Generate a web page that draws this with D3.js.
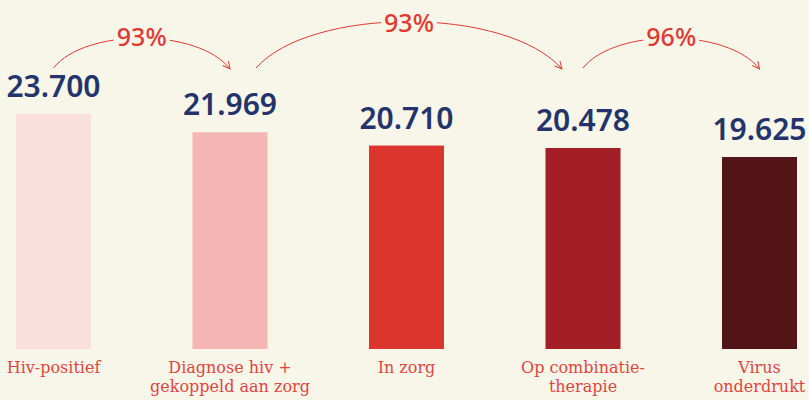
<!DOCTYPE html>
<html>
<head>
<meta charset="utf-8">
<script src="https://cdn.jsdelivr.net/npm/d3@7"></script>
<style>
  html, body { margin: 0; padding: 0; background: #f8f5e9; }
  svg { display: block; }
</style>
</head>
<body>
<div id="chart"></div>
<script>
// chart data
var categories = ["Hiv-positief", "Diagnose hiv +\ngekoppeld aan zorg", "In zorg", "Op combinatie-\ntherapie", "Virus\nonderdrukt"];
var values = [23700, 21969, 20710, 20478, 19625];
var valueLabels = ["23.700", "21.969", "20.710", "20.478", "19.625"];
var steps = [[0, 1], [1, 3], [3, 4]];
var stepLabels = ["93%", "93%", "96%"];

var svgWidth = 809;
var svgHeight = 400;

var svg = d3.select("#chart")
  .append("svg")
  .attr("width", svgWidth)
  .attr("height", svgHeight);

svg.append("rect")
  .attr("width", svgWidth)
  .attr("height", svgHeight)
  .attr("fill", "#f8f5e9");

// scales
var x = d3.scaleBand()
  .domain(d3.range(categories.length))
  .range([16, 797])
  .paddingInner(0.575)
  .paddingOuter(0);

var y = d3.scaleLinear()
  .domain([1430, 23700])
  .range([349, 114]);

var color = d3.scaleOrdinal()
  .domain(d3.range(categories.length))
  .range(["#f9e0df", "#f4b5b4", "#dc352e", "#a31f27", "#521414"]);

var cx = i => x(i) + x.bandwidth() / 2;

// bars
svg.selectAll("rect.bar")
  .data(values)
  .enter()
  .append("rect")
  .attr("class", "bar")
  .attr("x", (d, i) => x(i))
  .attr("y", d => y(d))
  .attr("width", x.bandwidth())
  .attr("height", d => y.range()[0] - y(d))
  .attr("fill", (d, i) => color(i));

// value labels
svg.selectAll("text.value")
  .data(values)
  .enter()
  .append("text")
  .attr("class", "value")
  .attr("x", (d, i) => cx(i))
  .attr("y", d => y(d) - 17)
  .attr("text-anchor", "middle")
  .attr("font-family", "'Noto Sans', sans-serif")
  .attr("font-weight", 600)
  .attr("font-size", 30)
  .attr("fill", "#22346a")
  .text((d, i) => valueLabels[i]);

// category labels
var cat = svg.selectAll("text.cat")
  .data(categories)
  .enter()
  .append("text")
  .attr("class", "cat")
  .attr("text-anchor", "middle")
  .attr("font-family", "'DejaVu Serif', serif")
  .attr("font-size", 16)
  .attr("fill", "#e0453d");

cat.selectAll("tspan")
  .data((d, i) => d.split("\n").map(t => ({ t: t, i: i })))
  .enter()
  .append("tspan")
  .attr("x", d => cx(d.i))
  .attr("y", (d, j) => 373 + j * 19)
  .text(d => d.t);

// conversion arrows
var defs = svg.append("defs");
defs.append("marker")
  .attr("id", "arrow")
  .attr("viewBox", "0 0 10 10")
  .attr("refX", 9)
  .attr("refY", 5)
  .attr("markerWidth", 9)
  .attr("markerHeight", 9)
  .attr("markerUnits", "userSpaceOnUse")
  .attr("orient", "auto")
  .append("path")
  .attr("d", "M1,1 L9,5 L1,9")
  .attr("fill", "none")
  .attr("stroke", "#e03a30")
  .attr("stroke-width", 1.1);

var arcTop = [28, 6, 28];
var labelY = [46, 32, 46];

steps.forEach(function(s, k) {
  var span = s[1] - s[0];
  var x0 = cx(s[0]) + (span > 1 ? 26 : 0);
  var x1 = cx(s[1]) - (span > 1 ? 21 : 0);
  var y0 = 68, y1 = 69;
  var dx = (x1 - x0);
  var path = d3.path();
  path.moveTo(x0, y0);
  path.bezierCurveTo(x0 + dx * 0.18, arcTop[k], x1 - dx * 0.18, arcTop[k], x1, y1);

  svg.append("path")
    .attr("d", path.toString())
    .attr("fill", "none")
    .attr("stroke", "#e03a30")
    .attr("stroke-width", 1)
    .attr("marker-end", "url(#arrow)");

  var mx = (x0 + x1) / 2;
  svg.append("rect")
    .attr("x", mx - 28)
    .attr("y", labelY[k] - 24)
    .attr("width", 56)
    .attr("height", 28)
    .attr("fill", "#f8f5e9");

  svg.append("text")
    .attr("x", mx)
    .attr("y", labelY[k])
    .attr("text-anchor", "middle")
    .attr("font-family", "'Noto Sans', sans-serif")
    .attr("font-weight", 500)
    .attr("font-size", 25)
    .attr("fill", "#e03a30")
    .text(stepLabels[k]);
});
</script>
</body>
</html>
